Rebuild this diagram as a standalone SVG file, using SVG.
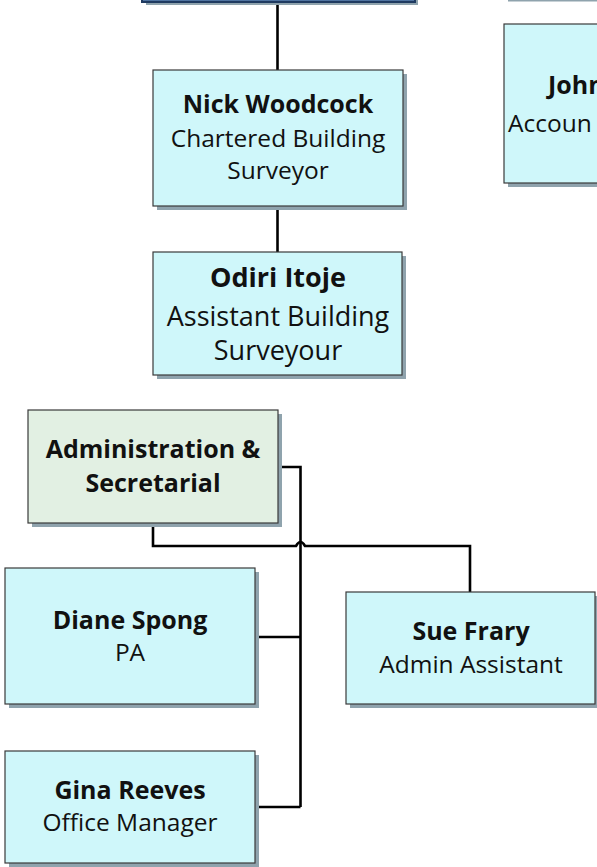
<svg xmlns="http://www.w3.org/2000/svg" width="597" height="867" viewBox="0 0 597 867">
<style>
.sh{fill:#8fa3ad}
.bx{fill:#cff7fa;stroke:#3a3a3a;stroke-width:1.2}
.gr{fill:#e2f0e3;stroke:#3a3a3a;stroke-width:1.2}
.tb{fill:#4f73a0;stroke:#1f3a60;stroke-width:2}
.n{font-family:"Open Sans","Noto Sans",sans-serif;font-weight:bold;fill:#111;text-anchor:middle;font-size:25px}
.r{font-family:"Open Sans","Noto Sans",sans-serif;fill:#111;text-anchor:middle;font-size:24.5px}
.c{fill:none;stroke:#000;stroke-width:2.6}
</style>
<rect width="597" height="867" fill="#fff"/>
<g id="connectors">
<path class="c" d="M277.5 2V70"/>
<path class="c" d="M277.5 206V252"/>
<path class="c" d="M278 467H300.5V807"/>
<path class="c" d="M255 637H300.5"/>
<path class="c" d="M255 807H300.5"/>
<path class="c" d="M153 523V546H296Q300.5 538 305 546H470V592"/>
</g>
<g id="top">
<rect class="sh" x="146" y="-40" width="272" height="45"/>
<rect class="tb" x="142" y="-40" width="273" height="42"/>
</g>
<g id="topright">
<rect class="sh" x="508" y="-40" width="100" height="41.5"/>
<rect x="504" y="-40" width="100" height="40" fill="#fff"/>
</g>
<g id="nick">
<rect class="sh" x="157" y="74" width="250" height="136"/>
<rect class="bx" x="153" y="70" width="250" height="136"/>
<text class="n" x="278" y="113">Nick Woodcock</text>
<text class="r" x="278" y="147">Chartered Building</text>
<text class="r" x="278" y="179">Surveyor</text>
</g>
<g id="odiri">
<rect class="sh" x="157" y="256" width="249" height="123"/>
<rect class="bx" x="153" y="252" width="249" height="123"/>
<text class="n" x="278" y="287" style="font-size:27px">Odiri Itoje</text>
<text class="r" x="278" y="326" style="font-size:27px">Assistant Building</text>
<text class="r" x="278" y="360" style="font-size:27px">Surveyour</text>
</g>
<g id="john">
<rect class="sh" x="508" y="28" width="100" height="159"/>
<rect class="bx" x="504" y="24" width="100" height="159"/>
<text class="n" x="548" y="94" style="text-anchor:start">John</text>
<text class="r" x="508" y="132" style="text-anchor:start">Accoun</text>
</g>
<g id="admin">
<rect class="sh" x="32" y="414" width="250" height="113"/>
<rect class="gr" x="28" y="410" width="250" height="113"/>
<text class="n" x="153" y="458">Administration &amp;</text>
<text class="n" x="153" y="492">Secretarial</text>
</g>
<g id="diane">
<rect class="sh" x="9" y="572" width="250" height="136"/>
<rect class="bx" x="5" y="568" width="250" height="136"/>
<text class="n" x="130" y="629">Diane Spong</text>
<text class="r" x="130" y="661">PA</text>
</g>
<g id="sue">
<rect class="sh" x="350" y="596" width="249" height="112"/>
<rect class="bx" x="346" y="592" width="249" height="112"/>
<text class="n" x="471" y="640">Sue Frary</text>
<text class="r" x="471" y="673">Admin Assistant</text>
</g>
<g id="gina">
<rect class="sh" x="9" y="755" width="250" height="112"/>
<rect class="bx" x="5" y="751" width="250" height="112"/>
<text class="n" x="130" y="799">Gina Reeves</text>
<text class="r" x="130" y="831">Office Manager</text>
</g>
</svg>
